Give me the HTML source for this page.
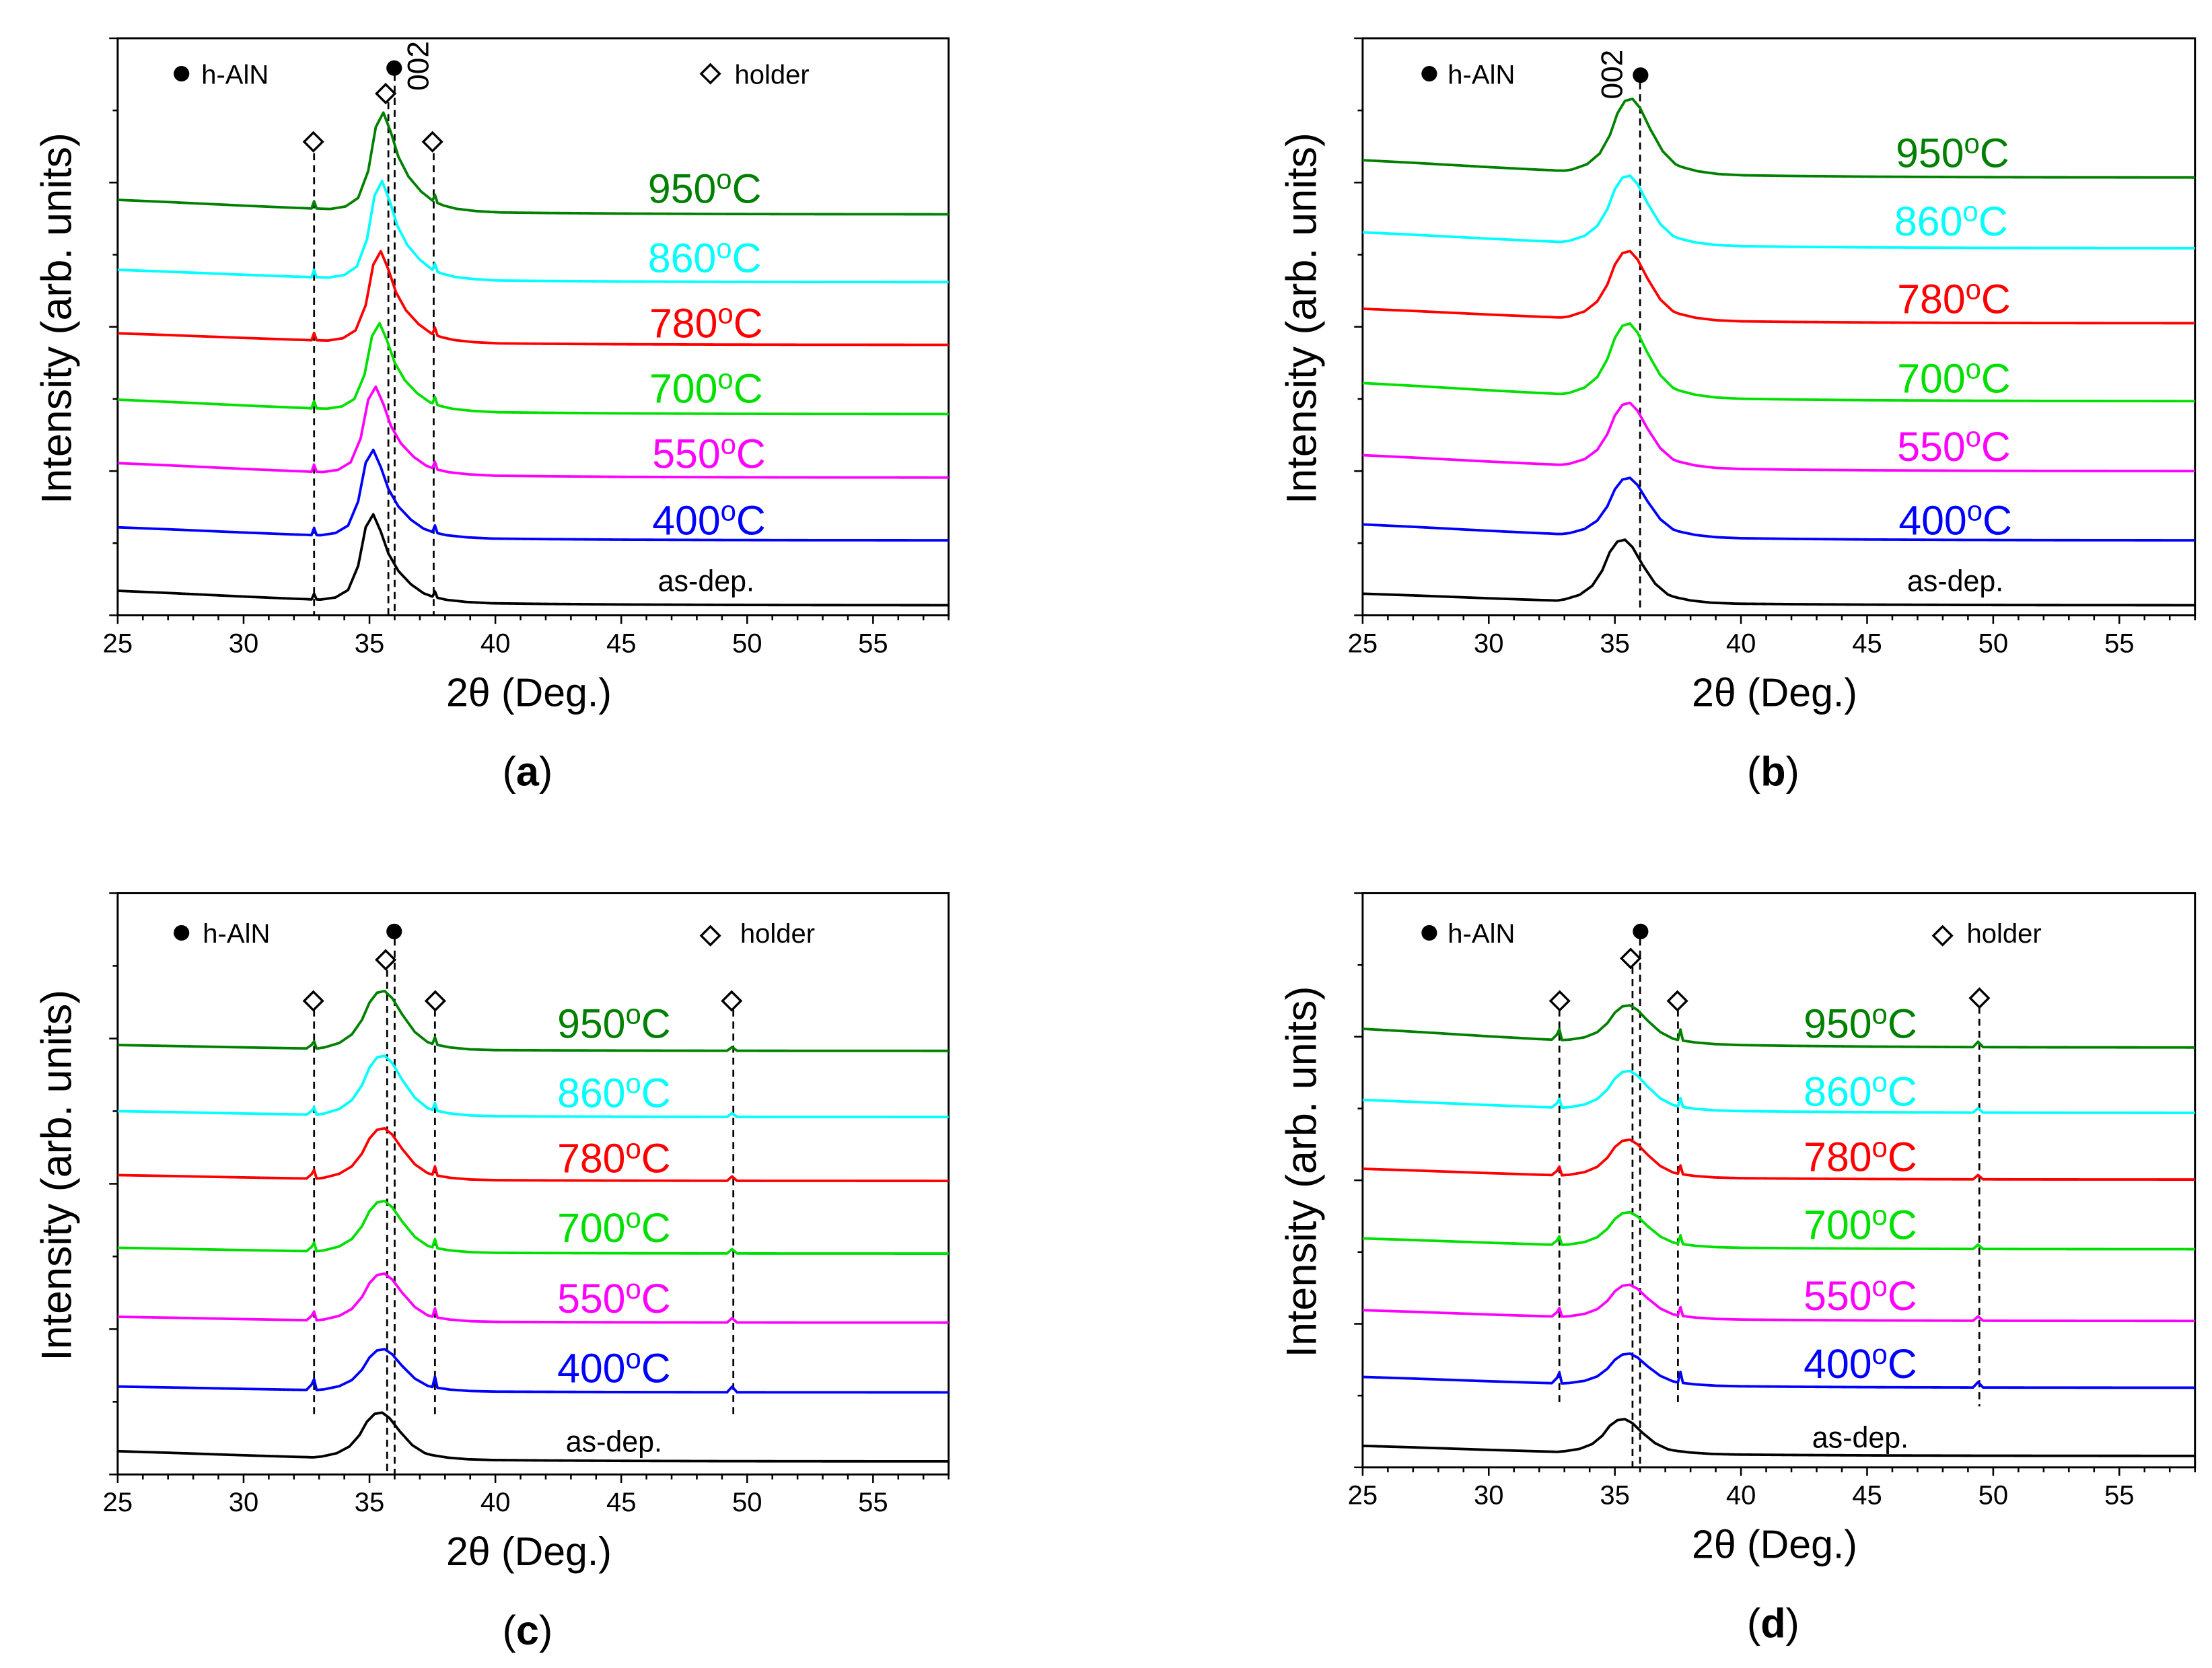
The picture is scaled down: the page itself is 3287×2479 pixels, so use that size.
<!DOCTYPE html>
<html><head><meta charset="utf-8"><style>
html,body{margin:0;padding:0;background:#fff}
svg{display:block}
text{font-family:"Liberation Sans",sans-serif}
</style></head><body>
<svg id="fig" width="3287" height="2479" viewBox="0 0 1560 1176.5" xmlns="http://www.w3.org/2000/svg"></svg>
<script>
// ---------- shared data ----------
const seriesNames = ["as-dep.","400\u00b0C","550\u00b0C","700\u00b0C","780\u00b0C","860\u00b0C","950\u00b0C"];
const seriesColors = ["#000000","#0000ff","#ff00ff","#00e000","#ff0000","#00ffff","#008000"];
const xGrid = [25,27,30,32,32.5,32.7,32.8,32.9,33.2,33.8,34.3,34.7,35.0,35.3,35.6,35.9,36.3,36.8,37.3,37.5,37.6,37.7,38.2,39,40,42,45,49.2,49.4,49.6,52,58];
const tiltShape = [1,0.85,0.6,0.45,0.42,0.4,0.4,0.4,0.38,0.35,0.33,0.32,0.3,0.3,0.3,0.28,0.26,0.24,0.22,0.21,0.21,0.21,0.19,0.16,0.13,0.09,0.05,0.02,0.02,0.02,0.01,0];
const peakShapeNarrow = [0,0,0,0,0,0,0,0,0,0.03,0.12,0.4,0.85,1.0,0.8,0.55,0.35,0.2,0.1,0.08,0.07,0.06,0.03,0.01,0,0,0,0,0,0,0,0];
const peakShapeBroad = [0,0,0,0,0,0,0,0,0.02,0.1,0.25,0.5,0.8,0.97,1.0,0.88,0.6,0.3,0.13,0.1,0.09,0.08,0.04,0.01,0,0,0,0,0,0,0,0];
const spikeA = [0,0,0,0,0,0,1,0,0,0,0,0,0,0,0,0,0,0,0,0,1,0,0,0,0,0,0,0,0,0,0,0];
const spikeB = [0,0,0,0,0,0,0,0,0,0,0,0,0,0,0,0,0,0,0,0,0,0,0,0,0,0,0,0,0,0,0,0];
const spikeCD = [0,0,0,0,0,0.5,1,0,0,0,0,0,0,0,0,0,0,0,0,0,1,0,0,0,0,0,0,0,0.5,0,0,0];
const xTicks = [25,30,35,40,45,50,55];

// panel (a)
const baseA = [0.14,1.04,1.91,2.79,3.75,4.62,5.56];
const tiltA = [0.2,0.18,0.2,0.2,0.16,0.17,0.2];
const peakA = [1.2,1.2,1.2,1.2,1.25,1.35,1.35];
const spkA = [0.08,0.1,0.1,0.1,0.1,0.1,0.1];
const shiftA = [-0.15,-0.15,-0.05,0.1,0.15,0.2,0.25];
// panel (b)
const baseB = [0.14,1.04,2.0,2.97,4.05,5.09,6.07];
const tiltB = [0.16,0.22,0.22,0.25,0.2,0.22,0.24];
const peakB = [0.86,0.8,0.88,1.0,0.94,0.94,1.02];
const spkB = [0,0,0,0,0,0,0];
const shiftB = [-0.2,0,0,0,0,0,0.1];
// panel (c)
const baseC = [0.18,1.13,2.09,3.04,4.04,4.92,5.83];
const tiltC = [0.14,0.08,0.08,0.08,0.08,0.08,0.08];
const peakC = [0.63,0.57,0.65,0.7,0.7,0.82,0.8];
const spkC = [0,0.15,0.12,0.12,0.12,0.1,0.1];
const shiftC = [-0.1,0,0,0,0,0,0];
// panel (d)
const baseD = [0.16,1.11,2.04,3.04,4.01,4.94,5.85];
const tiltD = [0.14,0.15,0.15,0.15,0.15,0.18,0.26];
const peakD = [0.47,0.43,0.46,0.47,0.51,0.53,0.51];
const spkD = [0,0.15,0.12,0.12,0.12,0.12,0.15];
const shiftD = [-0.2,0,0,0,0,0,0];

const NS="http://www.w3.org/2000/svg";
const svg=document.getElementById('fig');
function mk(tag,attrs,parent){const e=document.createElementNS(NS,tag);for(const k in attrs)e.setAttribute(k,attrs[k]);(parent||svg).appendChild(e);return e;}
function interp(arr,x){
  if(x<=xGrid[0])return arr[0];
  for(let i=1;i<xGrid.length;i++){if(x<=xGrid[i]){const t=(x-xGrid[i-1])/(xGrid[i]-xGrid[i-1]);return arr[i-1]+t*(arr[i]-arr[i-1]);}}
  return arr[arr.length-1];
}

function panel(cfg){
  const g=mk('g',{});
  
  
  const L=cfg.L,R=cfg.R,T=cfg.T,B=cfg.B;
  const xs=v=>L+(v-25)/(58-25)*(R-L);
  const ys=v=>B-v/8*(B-T);
  const fr=mk('rect',{x:L,y:T,width:R-L,height:B-T,fill:'none',stroke:'#000','stroke-width':1.4},g);
  
  
  for(let d=25;d<=58;d++){
    const major=(d%5===0);
    const t=mk('line',{x1:xs(d),x2:xs(d),y1:B,y2:B+(major?6:3.5),stroke:'#000','stroke-width':1.2},g);
    
    
  }
  xTicks.forEach(v=>{
    const t=mk('text',{x:xs(v),y:B+26,'font-size':19,'text-anchor':'middle'},g);
    t.textContent=v;
    
    
  });
  for(let k=0;k<=8;k++){
    const major=(k%2===0);
    const t=mk('line',{x1:L-(major?6:3.5),x2:L,y1:ys(k),y2:ys(k),stroke:'#000','stroke-width':1.2},g);
    
    
  }
  const xt=mk('text',{x:(L+R)/2-3,y:B+64,'font-size':28,'text-anchor':'middle'},g);
  xt.innerHTML='2\u03b8 (Deg.)';
  
  
  const yc=(T+B)/2-6;
  const yt=mk('text',{x:0,y:0,'font-size':30,'text-anchor':'middle',textLength:262,lengthAdjust:'spacingAndGlyphs',transform:`translate(${L-33},${yc}) rotate(-90)`},g);
  yt.textContent='Intensity (arb. units)';
  
  
  const pl=mk('text',{x:(L+R)/2-4,y:B+120,'font-size':29,'text-anchor':'middle','font-family':'Liberation Serif, serif'},g);
  pl.innerHTML='(<tspan font-weight="bold">'+cfg.id+'</tspan>)';
  
  
  cfg.dashes.forEach(dd=>{
    const l=mk('line',{x1:xs(dd[0]),x2:xs(dd[0]),y1:dd[1],y2:dd[2],stroke:'#000','stroke-width':1.3,'stroke-dasharray':'5,3.5'},g);
    
    
  });
  const S=cfg.data;
  for(let i=0;i<7;i++){
    let pts=[];
    for(let x=25;x<=58.0001;x+=0.05){
      const y=S.base[i]+S.tilt[i]*interp(tiltShape,x)+S.peak[i]*interp(cfg.peakShape,x-S.shift[i])+S.spk[i]*interp(cfg.spike,x);
      pts.push(xs(x).toFixed(2)+','+ys(y).toFixed(2));
    }
    const p=mk('polyline',{points:pts.join(' '),fill:'none',stroke:seriesColors[i],'stroke-width':1.8,'stroke-linejoin':'round'},g);
    
    
    const lb=cfg.labels[i];
    const t=mk('text',{x:lb[0],y:lb[1],'text-anchor':'middle',fill:seriesColors[i]},g);
    if(i===0){t.setAttribute('font-size',21);t.setAttribute('fill','#000');t.textContent='as-dep.';t.setAttribute('textLength',68);t.setAttribute('lengthAdjust','spacingAndGlyphs');}
    else{
      t.setAttribute('font-size',29);t.setAttribute('textLength',80);t.setAttribute('lengthAdjust','spacingAndGlyphs');
      t.innerHTML=seriesNames[i].slice(0,3)+'<tspan font-size="20" dy="-10">o</tspan><tspan dy="10">C</tspan>';
    }
    
    
  }
  cfg.dots.forEach(d=>{
    const c=mk('circle',{cx:d[0],cy:d[1],r:5.5,fill:'#000'},g);
    
    
  });
  cfg.diamonds.forEach(d=>{
    const c=mk('path',{d:`M${d[0]},${d[1]-6.5}L${d[0]+6.5},${d[1]}L${d[0]},${d[1]+6.5}L${d[0]-6.5},${d[1]}Z`,fill:'#fff',stroke:'#000','stroke-width':1.6},g);
    
    
  });
  cfg.texts.forEach(tx=>{
    const t=mk('text',{x:tx[0],y:tx[1],'font-size':tx[3]||19},g);
    if(tx[4])t.setAttribute('transform',`rotate(-90 ${tx[0]} ${tx[1]})`);
    t.textContent=tx[2];
    
    
  });
}

panel({id:'a',L:83,R:669,T:27,B:434,peakShape:peakShapeNarrow,spike:spikeA,
  data:{base:baseA,tilt:tiltA,peak:peakA,spk:spkA,shift:shiftA},
  labels:[[498,417],[500,377],[500,330],[498,284],[498,238],[497,192],[497,143]],
  dashes:[[32.8,108,434],[35.75,72,434],[36.0,52,434],[37.55,108,434]],
  dots:[[128,52],[278,48]],diamonds:[[501,52],[272,66],[221,100],[305,100]],
  texts:[[142,59,'h-AlN'],[518,59,'holder'],[302,64,'002',21,true]]});
panel({id:'b',L:961,R:1548,T:27,B:434,peakShape:peakShapeBroad,spike:spikeB,
  data:{base:baseB,tilt:tiltB,peak:peakB,spk:spkB,shift:shiftB},
  labels:[[1379,417],[1379,377],[1378,325],[1378,277],[1378,221],[1376,166],[1377,118]],
  dashes:[[36.0,58,432]],
  dots:[[1008,52],[1157,53]],diamonds:[],
  texts:[[1021,59,'h-AlN'],[1144,70,'002',21,true]]});
panel({id:'c',L:83,R:669,T:630,B:1040,peakShape:peakShapeBroad,spike:spikeCD,
  data:{base:baseC,tilt:tiltC,peak:peakC,spk:spkC,shift:shiftC},
  labels:[[433,1024],[433,975],[433,926],[433,876],[433,827],[433,781],[433,732]],
  dashes:[[32.8,712,998],[35.7,684,1040],[36.0,662,1040],[37.6,712,998],[49.45,712,998]],
  dots:[[128,658],[278,657]],diamonds:[[501,660],[272,677],[221,706],[307,706],[516,706]],
  texts:[[143,665,'h-AlN'],[522,665,'holder']]});
panel({id:'d',L:961,R:1548,T:630,B:1035,peakShape:peakShapeBroad,spike:spikeCD,
  data:{base:baseD,tilt:tiltD,peak:peakD,spk:spkD,shift:shiftD},
  labels:[[1312,1021],[1312,972],[1312,924],[1312,874],[1312,826],[1312,780],[1312,732]],
  dashes:[[32.8,712,992],[35.7,682,1035],[36.0,662,1035],[37.5,712,992],[49.45,710,992]],
  dots:[[1008,658],[1157,657]],diamonds:[[1370,660],[1150,676],[1100,706],[1183,706],[1396,704]],
  texts:[[1021,665,'h-AlN'],[1387,665,'holder']]});
</script>
</body></html>
